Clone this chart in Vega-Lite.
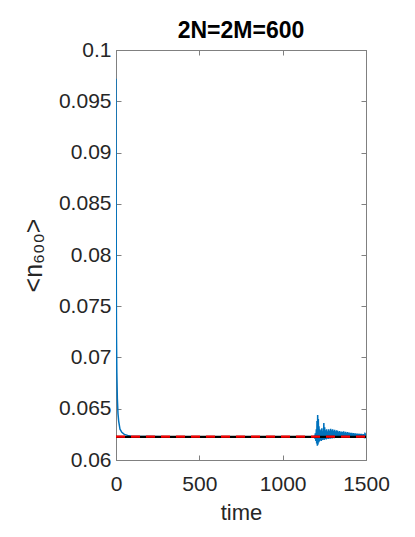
{
  "$schema": "https://vega.github.io/schema/vega-lite/v6.json",
  "width": 250,
  "height": 410,
  "autosize": {"type": "none"},
  "padding": {"left": 116, "top": 50, "right": 49, "bottom": 77},
  "background": "white",
  "title": {"text": "2N=2M=600", "fontSize": 23, "fontWeight": "bold", "font": "Liberation Sans", "color": "#000000", "offset": -4},
  "config": {
    "view": {"stroke": "#808080", "strokeWidth": 1},
    "axis": {
      "grid": false,
      "domainColor": "#808080",
      "tickColor": "#808080",
      "tickSize": -5,
      "labelFlush": false,
      "labelFont": "Liberation Sans",
      "labelFontSize": 21,
      "labelColor": "#262626",
      "titleFont": "Liberation Sans",
      "titleFontSize": 22,
      "titleFontWeight": "normal",
      "titleColor": "#262626"
    }
  },
  "datasets": {
    "series": [
      {"time": 0, "n": 0.0972},
      {"time": 1, "n": 0.085},
      {"time": 2, "n": 0.076},
      {"time": 3, "n": 0.072},
      {"time": 5, "n": 0.0685},
      {"time": 8, "n": 0.066},
      {"time": 12, "n": 0.0645},
      {"time": 16, "n": 0.0638},
      {"time": 24, "n": 0.063},
      {"time": 35, "n": 0.0627},
      {"time": 50, "n": 0.0625},
      {"time": 70, "n": 0.0624},
      {"time": 90, "n": 0.06232},
      {"time": 300, "n": 0.06228},
      {"time": 1185, "n": 0.06228},
      {"time": 1190, "n": 0.06232},
      {"time": 1193, "n": 0.0621},
      {"time": 1196, "n": 0.0626},
      {"time": 1199, "n": 0.06185},
      {"time": 1202, "n": 0.063},
      {"time": 1204, "n": 0.0616},
      {"time": 1206, "n": 0.0638},
      {"time": 1208, "n": 0.0614},
      {"time": 1210, "n": 0.0644},
      {"time": 1212, "n": 0.0615},
      {"time": 1214, "n": 0.064},
      {"time": 1216, "n": 0.0617},
      {"time": 1218, "n": 0.0633},
      {"time": 1220, "n": 0.0618},
      {"time": 1223, "n": 0.063},
      {"time": 1226, "n": 0.0619},
      {"time": 1229, "n": 0.0629},
      {"time": 1232, "n": 0.06185},
      {"time": 1235, "n": 0.0631},
      {"time": 1238, "n": 0.06195},
      {"time": 1241, "n": 0.0628},
      {"time": 1244, "n": 0.062},
      {"time": 1247, "n": 0.0636},
      {"time": 1249, "n": 0.06195},
      {"time": 1252, "n": 0.0632},
      {"time": 1255, "n": 0.06205},
      {"time": 1258, "n": 0.0629},
      {"time": 1261, "n": 0.062},
      {"time": 1264, "n": 0.063},
      {"time": 1267, "n": 0.0621},
      {"time": 1270, "n": 0.0628},
      {"time": 1273, "n": 0.06205},
      {"time": 1276, "n": 0.063},
      {"time": 1279, "n": 0.0621},
      {"time": 1282, "n": 0.06285},
      {"time": 1285, "n": 0.06208},
      {"time": 1288, "n": 0.06305},
      {"time": 1291, "n": 0.06212},
      {"time": 1294, "n": 0.0629},
      {"time": 1297, "n": 0.0621},
      {"time": 1300, "n": 0.063},
      {"time": 1303, "n": 0.06215},
      {"time": 1306, "n": 0.06285},
      {"time": 1309, "n": 0.06212},
      {"time": 1312, "n": 0.06295},
      {"time": 1315, "n": 0.06215},
      {"time": 1318, "n": 0.0628},
      {"time": 1321, "n": 0.06218},
      {"time": 1324, "n": 0.0629},
      {"time": 1327, "n": 0.06215},
      {"time": 1330, "n": 0.06285},
      {"time": 1333, "n": 0.06218},
      {"time": 1336, "n": 0.06275},
      {"time": 1339, "n": 0.0622},
      {"time": 1342, "n": 0.06282},
      {"time": 1345, "n": 0.06218},
      {"time": 1348, "n": 0.0627},
      {"time": 1351, "n": 0.06222},
      {"time": 1354, "n": 0.06278},
      {"time": 1357, "n": 0.0622},
      {"time": 1360, "n": 0.06272},
      {"time": 1363, "n": 0.06222},
      {"time": 1366, "n": 0.0628},
      {"time": 1369, "n": 0.0622},
      {"time": 1372, "n": 0.06268},
      {"time": 1375, "n": 0.06224},
      {"time": 1378, "n": 0.06275},
      {"time": 1381, "n": 0.06222},
      {"time": 1384, "n": 0.06266},
      {"time": 1387, "n": 0.06225},
      {"time": 1390, "n": 0.06272},
      {"time": 1393, "n": 0.06224},
      {"time": 1396, "n": 0.06265},
      {"time": 1399, "n": 0.06225},
      {"time": 1402, "n": 0.06268},
      {"time": 1405, "n": 0.06226},
      {"time": 1408, "n": 0.06262},
      {"time": 1411, "n": 0.06225},
      {"time": 1414, "n": 0.06266},
      {"time": 1417, "n": 0.06227},
      {"time": 1420, "n": 0.0626},
      {"time": 1423, "n": 0.06226},
      {"time": 1426, "n": 0.06262},
      {"time": 1429, "n": 0.06228},
      {"time": 1432, "n": 0.06258},
      {"time": 1435, "n": 0.06227},
      {"time": 1438, "n": 0.0626},
      {"time": 1441, "n": 0.06228},
      {"time": 1444, "n": 0.06255},
      {"time": 1447, "n": 0.06228},
      {"time": 1450, "n": 0.06258},
      {"time": 1453, "n": 0.06229},
      {"time": 1456, "n": 0.06254},
      {"time": 1459, "n": 0.06228},
      {"time": 1462, "n": 0.06256},
      {"time": 1465, "n": 0.0623},
      {"time": 1468, "n": 0.06252},
      {"time": 1471, "n": 0.06229},
      {"time": 1474, "n": 0.06254},
      {"time": 1477, "n": 0.0623},
      {"time": 1480, "n": 0.0625},
      {"time": 1483, "n": 0.0623},
      {"time": 1486, "n": 0.06252},
      {"time": 1489, "n": 0.06231},
      {"time": 1492, "n": 0.06248},
      {"time": 1495, "n": 0.06231},
      {"time": 1498, "n": 0.06246},
      {"time": 1500, "n": 0.06235}
    ]
  },
  "layer": [
    {
      "data": {"name": "series"},
      "mark": {"type": "line", "color": "#0072BD", "strokeWidth": 1.5, "clip": true},
      "encoding": {
        "x": {"field": "time", "type": "quantitative", "scale": {"domain": [0, 1500], "nice": false, "zero": false},
              "axis": {"orient": "bottom", "values": [0, 500, 1000, 1500], "format": "d", "title": "time", "labelPadding": 18, "titlePadding": 8}},
        "y": {"field": "n", "type": "quantitative", "scale": {"domain": [0.06, 0.1], "nice": false, "zero": false},
              "axis": {"orient": "left", "values": [0.06, 0.065, 0.07, 0.075, 0.08, 0.085, 0.09, 0.095, 0.1], "format": "~g", "title": "<n₆₀₀>", "titleFontSize": 25, "labelPadding": 10, "titlePadding": 12}}
      }
    },
    {
      "data": {"values": [{"level": 0.06225}]},
      "mark": {"type": "rule", "color": "#000000", "strokeWidth": 2.2},
      "encoding": {
        "y": {"field": "level", "type": "quantitative", "scale": {"domain": [0.06, 0.1], "nice": false, "zero": false},
              "axis": {"orient": "right", "values": [0.06, 0.065, 0.07, 0.075, 0.08, 0.085, 0.09, 0.095, 0.1], "labels": false, "title": null}}
      }
    },
    {
      "data": {"values": [{"time": 0, "level": 0.06228}, {"time": 1500, "level": 0.06228}]},
      "mark": {"type": "line", "color": "#FF0000", "strokeWidth": 2.2, "strokeDash": [9, 6]},
      "encoding": {
        "x": {"field": "time", "type": "quantitative", "scale": {"domain": [0, 1500], "nice": false, "zero": false},
              "axis": {"orient": "top", "values": [0, 500, 1000, 1500], "labels": false, "title": null}},
        "y": {"field": "level", "type": "quantitative", "scale": {"domain": [0.06, 0.1], "nice": false, "zero": false}, "axis": null}
      }
    }
  ],
  "resolve": {"scale": {"x": "independent", "y": "independent"}, "axis": {"x": "independent", "y": "independent"}}
}
